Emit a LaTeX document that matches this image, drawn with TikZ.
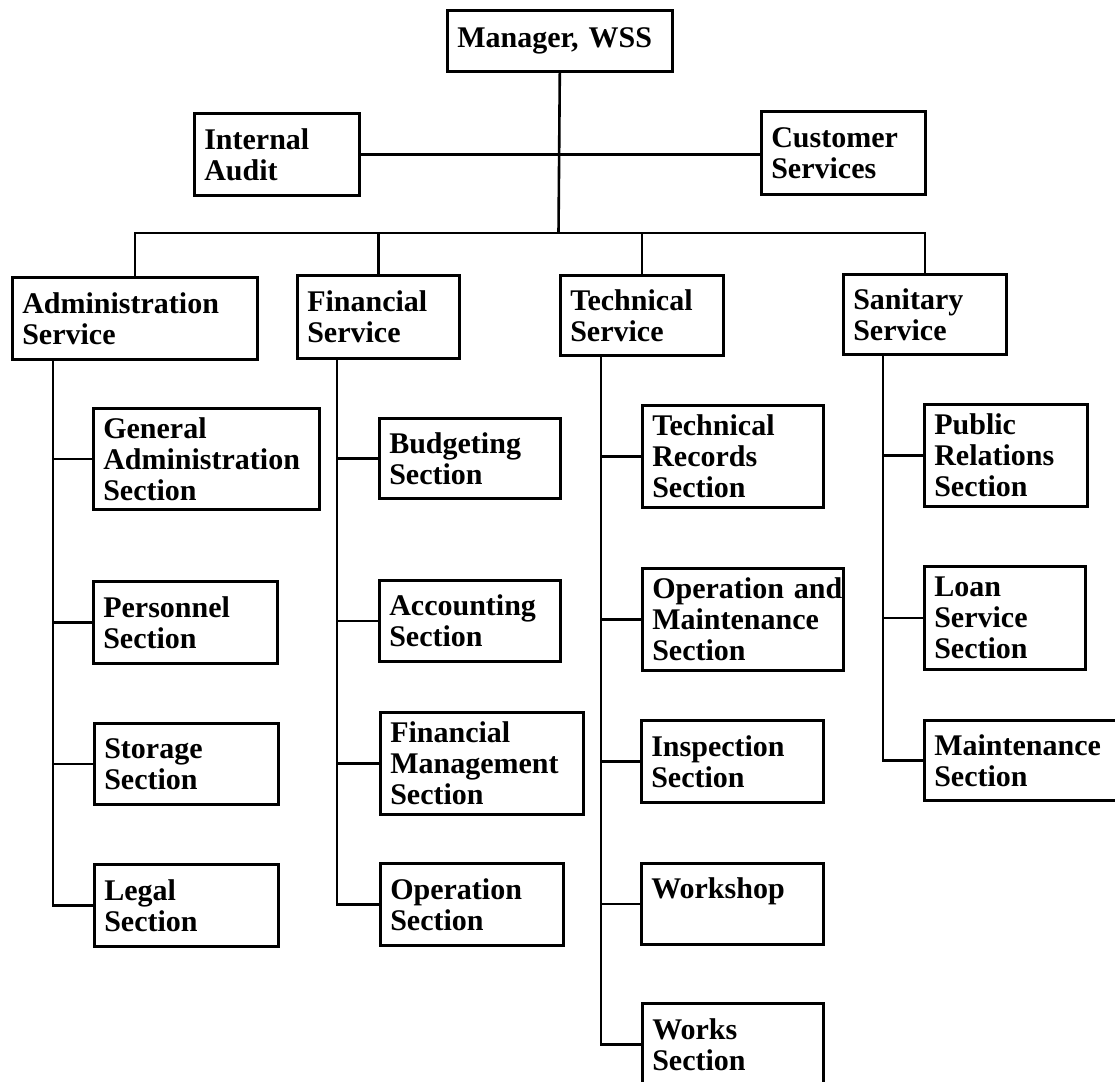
\documentclass[tikz,border=0pt]{standalone}
\usepackage{fontspec}
\setmainfont{Liberation Serif}
\begin{document}
\begin{tikzpicture}[x=1pt,y=-1pt,
  orgnode/.style={draw, line width=2.6pt, rectangle, inner xsep=10pt, inner ysep=0pt,
    align=left, font=\fontsize{30}{31}\selectfont\bfseries},
  link/.style={line width=2.6pt}]
\useasboundingbox (0,0) rectangle (1115,1081);
\clip (0,0) rectangle (1115,1081);
\newcommand\orgbox[6]{%
  \pgfmathsetlengthmacro\bw{#4-#2}%
  \pgfmathsetlengthmacro\bh{#5-#3}%
  \pgfmathsetlengthmacro\tw{#4-#2-20}%
  \node[orgnode, minimum width=\bw, minimum height=\bh, text width=\tw, anchor=north west] (#1) at (#2,#3) {#6};}
% top
\orgbox{mgr}{446}{9}{671}{70}{Manager, WSS}
\orgbox{audit}{193}{112}{358}{194}{Internal\\Audit}
\orgbox{cust}{760}{110}{924}{193}{Customer\\Services}
% services
\orgbox{adm}{11}{276}{256}{358}{Administration\\Service}
\orgbox{fin}{296}{274}{458}{357}{Financial\\Service}
\orgbox{tech}{559}{274}{722}{354}{Technical\\Service}
\orgbox{san}{842}{273}{1005}{353}{Sanitary\\Service}
% administration
\orgbox{genadm}{92}{407}{318}{508}{General\\Administration\\Section}
\orgbox{pers}{92}{580}{276}{662}{Personnel\\Section}
\orgbox{stor}{93}{722}{277}{803}{Storage\\Section}
\orgbox{legal}{93}{863}{277}{945}{Legal\\Section}
% financial
\orgbox{budg}{378}{417}{559}{497}{Budgeting\\Section}
\orgbox{acct}{378}{579}{559}{660}{Accounting\\Section}
\orgbox{finm}{379}{711}{582}{813}{Financial\\Management\\Section}
\orgbox{oper}{379}{862}{562}{944}{Operation\\Section}
% technical
\orgbox{trec}{641}{404}{822}{506}{Technical\\Records\\Section}
\orgbox{om}{641}{567}{842}{669}{\mbox{Operation and}\\Maintenance\\Section}
\orgbox{insp}{640}{719}{822}{801}{Inspection\\Section}
\orgbox{wshop}{640}{862}{822}{943}{Workshop\\\mbox{}}
\orgbox{works}{641}{1002}{822}{1084}{Works\\Section}
% sanitary
\orgbox{pr}{923}{403}{1086}{505}{Public\\Relations\\Section}
\orgbox{loan}{923}{565}{1084}{668}{Loan\\Service\\Section}
\orgbox{maint}{923}{719}{1130}{799}{\mbox{Maintenance}\\Section}
% connectors
\coordinate (bus) at (558.5,233);
\draw[link] (mgr.south) -- (bus);
\draw[link] (audit.east) -- (audit.east -| cust.west);
\draw[link] (adm.north) |- (bus) -| (san.north);
\draw[link] (fin.north) -- (fin.north |- bus);
\draw[link] (tech.north) -- (tech.north |- bus);
\coordinate (admt) at ([xshift=42pt]adm.south west);
\coordinate (fint) at ([xshift=41pt]fin.south west);
\coordinate (techt) at ([xshift=42pt]tech.south west);
\coordinate (sant) at ([xshift=41pt]san.south west);
\draw[link] (admt) |- (legal.west);
\foreach \n in {genadm,pers,stor} \draw[link] (\n.west) -- (\n.west -| admt);
\draw[link] (fint) |- (oper.west);
\foreach \n in {budg,acct,finm} \draw[link] (\n.west) -- (\n.west -| fint);
\draw[link] (techt) |- (works.west);
\foreach \n in {trec,om,insp,wshop} \draw[link] (\n.west) -- (\n.west -| techt);
\draw[link] (sant) |- (maint.west);
\foreach \n in {pr,loan} \draw[link] (\n.west) -- (\n.west -| sant);
\end{tikzpicture}
\end{document}
